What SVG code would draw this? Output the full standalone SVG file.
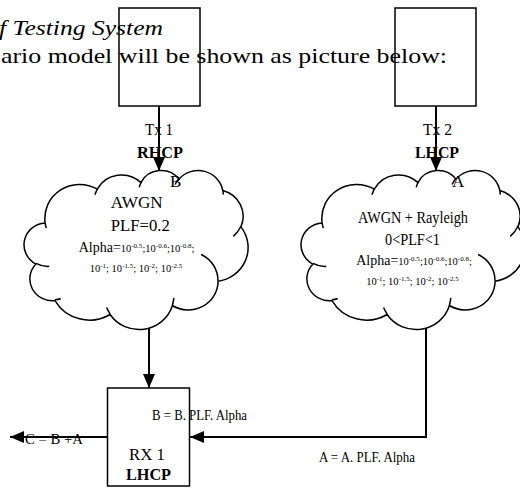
<svg xmlns="http://www.w3.org/2000/svg" width="520" height="488" viewBox="0 0 520 488">
<style>
text{font-family:"Liberation Serif","Times New Roman",serif;fill:#000}
.box{fill:none;stroke:#000;stroke-width:1.5}
.cloud{fill:#fff;stroke:#000;stroke-width:1.5}
.hook{fill:none;stroke:#000;stroke-width:1.5}
.conn{fill:none;stroke:#000;stroke-width:2}
.b{font-weight:bold}
.lbl{font-size:17px}
.sm{font-size:10.5px}
.sup{font-size:7px}
.head{font-family:"Liberation Serif",serif;font-size:22px}
</style>
<defs>
<marker id="arr" markerWidth="14" markerHeight="12" refX="14" refY="6" orient="auto" markerUnits="userSpaceOnUse"><path d="M0,0 L14,6 L0,12 Z" fill="#000"/></marker>
<g id="cloudShape">
<path class="cloud" d="M20.13 52.89 A34.86 33.82 0 0 1 72.30 19.15 A27.53 26.75 0 0 1 115.92 12.63 A22.53 21.88 0 0 1 154.01 9.13 A25.07 24.27 0 0 1 197.81 20.52 A27.53 26.77 0 0 1 215.88 56.90 A34.97 33.94 0 0 1 193.09 111.16 A29.86 28.96 0 0 1 147.41 135.49 A34.85 33.92 0 0 1 85.09 144.52 A39.85 38.80 0 0 1 29.99 130.57 A22.51 21.78 0 0 1 10.93 94.06 A22.43 21.88 0 0 1 20.13 52.89 Z"/>
<path class="hook" d="M24.23 96.35 A22.43 21.88 0 0 1 11.15 93.41 M35.76 128.45 A22.51 21.78 0 0 1 30.04 129.86 M85.06 143.87 A34.86 33.82 0 0 1 81.60 137.48 M148.81 127.90 A34.85 33.92 0 0 1 147.43 134.93 M176.17 84.48 A29.86 28.96 0 0 1 192.96 110.75 M215.76 56.51 A27.53 26.77 0 0 1 208.29 66.36 M197.83 19.97 A25.07 24.27 0 0 1 198.22 24.62 M150.10 14.55 A25.07 24.27 0 0 1 153.93 8.61 M114.29 17.37 A22.53 21.88 0 0 1 116.14 12.26 M70.02 24.79 A27.53 26.75 0 0 1 72.30 19.15 M21.30 58.11 A34.86 33.82 0 0 1 20.13 52.89"/>
</g>
</defs>

<g id="heading">
<text class="head" x="-1" y="35" font-style="italic" textLength="164" lengthAdjust="spacingAndGlyphs">f Testing System</text>
<text class="head" x="1" y="63" textLength="446" lengthAdjust="spacingAndGlyphs">ario model will be shown as picture below:</text>
</g>

<g id="tx1"><rect class="box" x="119" y="8" width="81" height="98"/></g>
<g id="tx2"><rect class="box" x="395" y="8" width="81" height="98"/></g>

<g id="channel-b">
<use href="#cloudShape" transform="translate(25,170)"/>
<text class="lbl" x="136.7" y="208" text-anchor="middle" textLength="52" lengthAdjust="spacingAndGlyphs">AWGN</text>
<text class="lbl" x="140.3" y="231" text-anchor="middle" textLength="59" lengthAdjust="spacingAndGlyphs">PLF=0.2</text>
<text x="136.5" y="252" text-anchor="middle"><tspan font-size="14">Alpha=</tspan><tspan class="sm">10</tspan><tspan class="sup" dy="-4">-0.5</tspan><tspan class="sm" dy="4">;10</tspan><tspan class="sup" dy="-4">-0.6</tspan><tspan class="sm" dy="4">;10</tspan><tspan class="sup" dy="-4">-0.8</tspan><tspan class="sm" dy="4">;</tspan></text>
<text x="136" y="272" text-anchor="middle"><tspan class="sm">10</tspan><tspan class="sup" dy="-4">-1</tspan><tspan class="sm" dy="4">; 10</tspan><tspan class="sup" dy="-4">-1.5</tspan><tspan class="sm" dy="4">; 10</tspan><tspan class="sup" dy="-4">-2</tspan><tspan class="sm" dy="4">; 10</tspan><tspan class="sup" dy="-4">-2.5</tspan></text>
</g>

<g id="channel-a">
<use href="#cloudShape" transform="translate(302,170)"/>
<text class="lbl" x="413" y="223" text-anchor="middle" textLength="110" lengthAdjust="spacingAndGlyphs">AWGN + Rayleigh</text>
<text class="lbl" x="412.5" y="245" text-anchor="middle" textLength="55" lengthAdjust="spacingAndGlyphs">0&lt;PLF&lt;1</text>
<text x="414" y="265" text-anchor="middle"><tspan font-size="14">Alpha=</tspan><tspan class="sm">10</tspan><tspan class="sup" dy="-4">-0.5</tspan><tspan class="sm" dy="4">;10</tspan><tspan class="sup" dy="-4">-0.6</tspan><tspan class="sm" dy="4">;10</tspan><tspan class="sup" dy="-4">-0.8</tspan><tspan class="sm" dy="4">;</tspan></text>
<text x="412.5" y="285" text-anchor="middle"><tspan class="sm">10</tspan><tspan class="sup" dy="-4">-1</tspan><tspan class="sm" dy="4">; 10</tspan><tspan class="sup" dy="-4">-1.5</tspan><tspan class="sm" dy="4">; 10</tspan><tspan class="sup" dy="-4">-2</tspan><tspan class="sm" dy="4">; 10</tspan><tspan class="sup" dy="-4">-2.5</tspan></text>
</g>

<g id="rx1">
<rect class="box" x="107.5" y="388" width="82" height="98"/>
<text x="147" y="460" font-size="16.5" text-anchor="middle" textLength="36" lengthAdjust="spacingAndGlyphs">RX 1</text>
<text class="b" x="148.5" y="480" font-size="16.5" text-anchor="middle" textLength="45" lengthAdjust="spacingAndGlyphs">LHCP</text>
</g>

<g id="connectors">
<line class="conn" x1="159" y1="106" x2="159" y2="171" marker-end="url(#arr)"/>
<line class="conn" x1="436" y1="106" x2="436" y2="171" marker-end="url(#arr)"/>
<line class="conn" x1="149" y1="328" x2="149" y2="388" marker-end="url(#arr)"/>
<polyline class="conn" points="426,328 426,437 190,437" marker-end="url(#arr)"/>
<line class="conn" x1="107" y1="437" x2="10" y2="437" marker-end="url(#arr)"/>
<text class="lbl" x="159" y="135" text-anchor="middle" textLength="28" lengthAdjust="spacingAndGlyphs">Tx 1</text>
<text class="lbl b" x="160" y="158" text-anchor="middle" textLength="46" lengthAdjust="spacingAndGlyphs">RHCP</text>
<text class="lbl" x="170" y="187">B</text>
<text class="lbl" x="437.5" y="135" text-anchor="middle" textLength="29" lengthAdjust="spacingAndGlyphs">Tx 2</text>
<text class="lbl b" x="437" y="158" text-anchor="middle" textLength="44" lengthAdjust="spacingAndGlyphs">LHCP</text>
<text class="lbl" x="452" y="187">A</text>
<text x="152" y="420" font-size="15" textLength="95" lengthAdjust="spacingAndGlyphs">B = B. PLF. Alpha</text>
<text x="319" y="462" font-size="15" textLength="96" lengthAdjust="spacingAndGlyphs">A = A. PLF. Alpha</text>
<text x="25" y="444" font-size="15" textLength="58" lengthAdjust="spacingAndGlyphs">C = B +A</text>
</g>
</svg>
